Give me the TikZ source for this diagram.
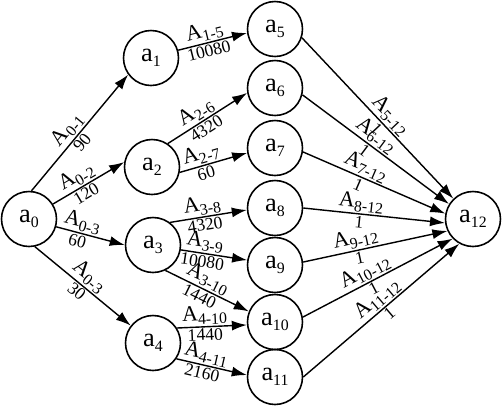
\documentclass[tikz,border=0pt]{standalone}
\usepackage{fontspec}
\setmainfont{Liberation Serif}
\usetikzlibrary{arrows.meta, positioning}

\newcommand{\nsub}[1]{a\raisebox{-0.4ex}{\fontsize{9}{9}\selectfont #1}}
\newcommand{\asub}[1]{A\raisebox{-0.4ex}{\fontsize{9}{9}\selectfont #1}}

\begin{document}
\begin{tikzpicture}[
  on grid,
  ev/.style ={circle, draw, line width=0.9pt, minimum size=1.1cm, inner sep=0pt, font=\fontsize{15}{16}\selectfont},
  act/.style={font=\fontsize{12.5}{13}\selectfont, sloped, above, inner sep=0.8pt},
  dur/.style={font=\fontsize{10}{11}\selectfont, sloped, below, inner sep=0.8pt},
  -{Latex[length=3mm, width=2mm]}, line width=0.8pt
]
\useasboundingbox (-0.58,-3.72) rectangle (9.46,4.38);

%% Start event
\node[ev] (a0) {\nsub{0}};

%% First column
\node[ev, above right=3.22cm and 2.44cm of a0] (a1) {\nsub{1}};
\node[ev, above right=1.04cm and 2.46cm of a0] (a2) {\nsub{2}};
\node[ev, below right=0.52cm and 2.48cm of a0] (a3) {\nsub{3}};
\node[ev, below right=2.48cm and 2.48cm of a0] (a4) {\nsub{4}};

%% Second column
\node[ev, above right=3.80cm and 4.92cm of a0] (a5) {\nsub{5}};
\node[ev, below=1.18cm of a5]  (a6)  {\nsub{6}};
\node[ev, below=1.20cm of a6]  (a7)  {\nsub{7}};
\node[ev, below=1.20cm of a7]  (a8)  {\nsub{8}};
\node[ev, below=1.14cm of a8]  (a9)  {\nsub{9}};
\node[ev, below=1.14cm of a9]  (a10) {\nsub{10}};
\node[ev, below=1.10cm of a10] (a11) {\nsub{11}};

%% End event
\node[ev, right=8.88cm of a0] (a12) {\nsub{12}};

%% Activities with durations (from.angle / to.angle)
\foreach \s/\sa/\t/\ta/\n/\w/\p in {a0/85/a1/216/0-1/90/0.46,
    a0/32/a2/170/0-2/120/0.41, a0/344/a3/180/0-3/60/0.34,
    a0/282/a4/142/0-3/30/0.49, a1/16/a5/188/1-5/10080/0.42,
    a2/56/a6/190/2-6/4320/0.43, a2/349/a7/190/2-7/60/0.36,
    a3/53/a8/184/3-8/4320/0.44, a3/350/a9/170/3-9/10080/0.34,
    a3/296/a10/158/3-10/1440/0.45, a4/32/a10/186/4-10/1440/0.40,
    a4/326/a11/176/4-11/2160/0.39}{
  \draw (\s.\sa) -- (\t.\ta) node[act, pos=\p]{\asub{\n}} node[dur, pos=\p]{\w};
}

%% Activities into a12
\foreach \s/\sa/\ta/\p in {5/342/134/0.53, 6/346/148/0.455, 7/352/169/0.41,
    8/0/188/0.40, 9/6/205/0.38, 10/10/224/0.45, 11/0/241/0.52}{
  \draw (a\s.\sa) -- (a12.\ta) node[act, pos=\p]{\asub{\s-12}} node[dur, pos=\p]{1};
}

\end{tikzpicture}
\end{document}
